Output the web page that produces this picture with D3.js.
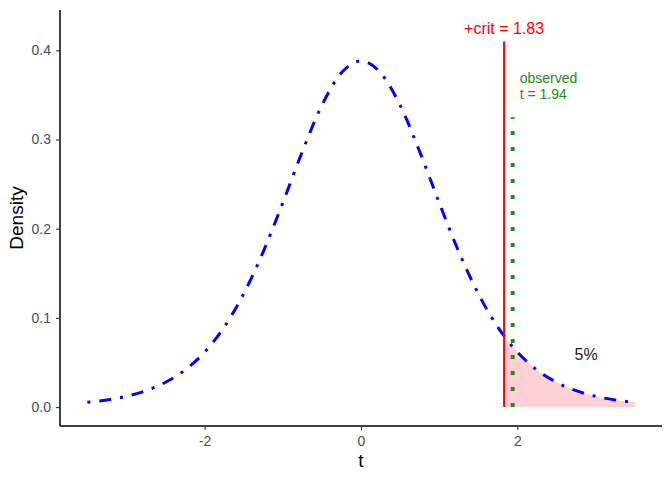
<!DOCTYPE html>
<html>
<head>
<meta charset="utf-8">
<script src="https://cdn.jsdelivr.net/npm/d3@7"></script>
<style>
  body { margin: 0; background: #fff; }
  text { font-family: "Liberation Sans", Arial, sans-serif; }
</style>
</head>
<body>
<div id="grafico"></div>
<script>
// t values and density
const tValues = [-3.5, -3.25, -3, -2.75, -2.5, -2.25, -2, -1.75, -1.5, -1.25, -1, -0.75, -0.5, -0.25,
  0, 0.25, 0.5, 0.75, 1, 1.25, 1.5, 1.75, 2, 2.25, 2.5, 2.75, 3, 3.25, 3.5];
const densityValues = [0.0053, 0.0080, 0.0121, 0.0184, 0.0278, 0.0417, 0.0617, 0.0897, 0.1272, 0.1743, 0.2291, 0.2866, 0.3384, 0.3748,
  0.3880, 0.3748, 0.3384, 0.2866, 0.2291, 0.1743, 0.1272, 0.0897, 0.0617, 0.0417, 0.0278, 0.0184, 0.0121, 0.0080, 0.0053];

// shaded upper tail
const tailT = [1.83, 2, 2.25, 2.5, 2.75, 3, 3.25, 3.5];
const tailDensity = [0.0798, 0.0617, 0.0417, 0.0278, 0.0184, 0.0121, 0.0080, 0.0053];

const critValue = 1.83;
const critTop = 0.41;
const observedValue = 1.94;
const observedTop = 0.325;

const xTicks = [-2, 0, 2];
const yTicks = [0, 0.1, 0.2, 0.3, 0.4];

const width = 672;
const height = 480;
const margin = { top: 10, right: 10, bottom: 54, left: 60 };

const x = d3.scaleLinear()
  .domain([-3.85, 3.85])
  .range([margin.left, width - margin.right]);

const y = d3.scaleLinear()
  .domain([-0.0212, 0.4452])
  .range([height - margin.bottom, margin.top]);

const svg = d3.create("svg")
  .attr("width", width)
  .attr("height", height)
  .style("display", "block")
  .style("background", "white");

// tail area
const tail = tailT.map((t, i) => [t, tailDensity[i]]);
svg.append("path")
  .datum(tail)
  .attr("fill", "#ffd1d4")
  .attr("d", d3.area()
    .x(d => x(d[0]))
    .y0(y(0))
    .y1(d => y(d[1]))
    .curve(d3.curveMonotoneX));

// density curve
const curve = tValues.map((t, i) => [t, densityValues[i]]);
svg.append("path")
  .datum(curve)
  .attr("fill", "none")
  .attr("stroke", "blue")
  .attr("stroke-width", 3)
  .attr("stroke-dasharray", "3,9,12,9")
  .attr("d", d3.line()
    .x(d => x(d[0]))
    .y(d => y(d[1]))
    .curve(d3.curveMonotoneX));

// critical value line
svg.append("line")
  .attr("x1", x(critValue)).attr("x2", x(critValue))
  .attr("y1", y(0)).attr("y2", y(critTop))
  .attr("stroke", "red")
  .attr("stroke-width", 2);

// observed line
svg.append("line")
  .attr("x1", x(observedValue)).attr("x2", x(observedValue))
  .attr("y1", y(0)).attr("y2", y(observedTop))
  .attr("stroke", "#228B22")
  .attr("stroke-width", 4)
  .attr("stroke-dasharray", "4,12");

// labels
svg.append("text")
  .attr("x", x(critValue))
  .attr("y", y(0.425))
  .attr("dy", "0.35em")
  .attr("text-anchor", "middle")
  .attr("fill", "red")
  .style("font-size", "16px")
  .text("+crit = " + critValue.toFixed(2));

const obs = svg.append("text")
  .attr("x", x(2.03))
  .attr("y", y(0.363))
  .attr("fill", "#228B22")
  .style("font-size", "14px");
obs.append("tspan").attr("x", x(2.03)).attr("dy", 0).text("observed");
obs.append("tspan").attr("x", x(2.03)).attr("dy", "1.15em").text("t = " + observedValue.toFixed(2));

svg.append("text")
  .attr("x", x(2.88))
  .attr("y", y(0.0595))
  .attr("dy", "0.35em")
  .attr("text-anchor", "middle")
  .attr("fill", "#1a1a1a")
  .style("font-size", "16px")
  .text("5%");

// axes
const xAxis = svg.append("g")
  .attr("transform", `translate(0,${height - margin.bottom})`)
  .call(d3.axisBottom(x).tickValues(xTicks).tickSize(4).tickPadding(6).tickFormat(d => String(d)));

const yAxis = svg.append("g")
  .attr("transform", `translate(${margin.left},0)`)
  .call(d3.axisLeft(y).tickValues(yTicks).tickSize(4).tickPadding(5).tickFormat(d3.format(".1f")));

[xAxis, yAxis].forEach(g => {
  g.select(".domain").attr("stroke", "black").attr("stroke-width", 1.5);
  g.selectAll(".tick line").attr("stroke", "#333").attr("stroke-width", 1.1);
  g.selectAll(".tick text")
    .attr("fill", "#4d4d4d")
    .style("font-size", "14px")
    .style("font-family", "'Liberation Sans', Arial, sans-serif");
});
xAxis.select(".domain").attr("d", `M${margin.left},0H${width - margin.right}`);
yAxis.select(".domain").attr("d", `M0,${margin.top}V${height - margin.bottom}`);

svg.append("text")
  .attr("x", (margin.left + width - margin.right) / 2)
  .attr("y", 467)
  .attr("text-anchor", "middle")
  .style("font-size", "19px")
  .attr("fill", "black")
  .text("t");

svg.append("text")
  .attr("transform", `translate(22.5,${(margin.top + height - margin.bottom) / 2}) rotate(-90)`)
  .attr("text-anchor", "middle")
  .style("font-size", "19px")
  .attr("fill", "black")
  .text("Density");

document.getElementById("grafico").append(svg.node());
</script>
</body>
</html>
